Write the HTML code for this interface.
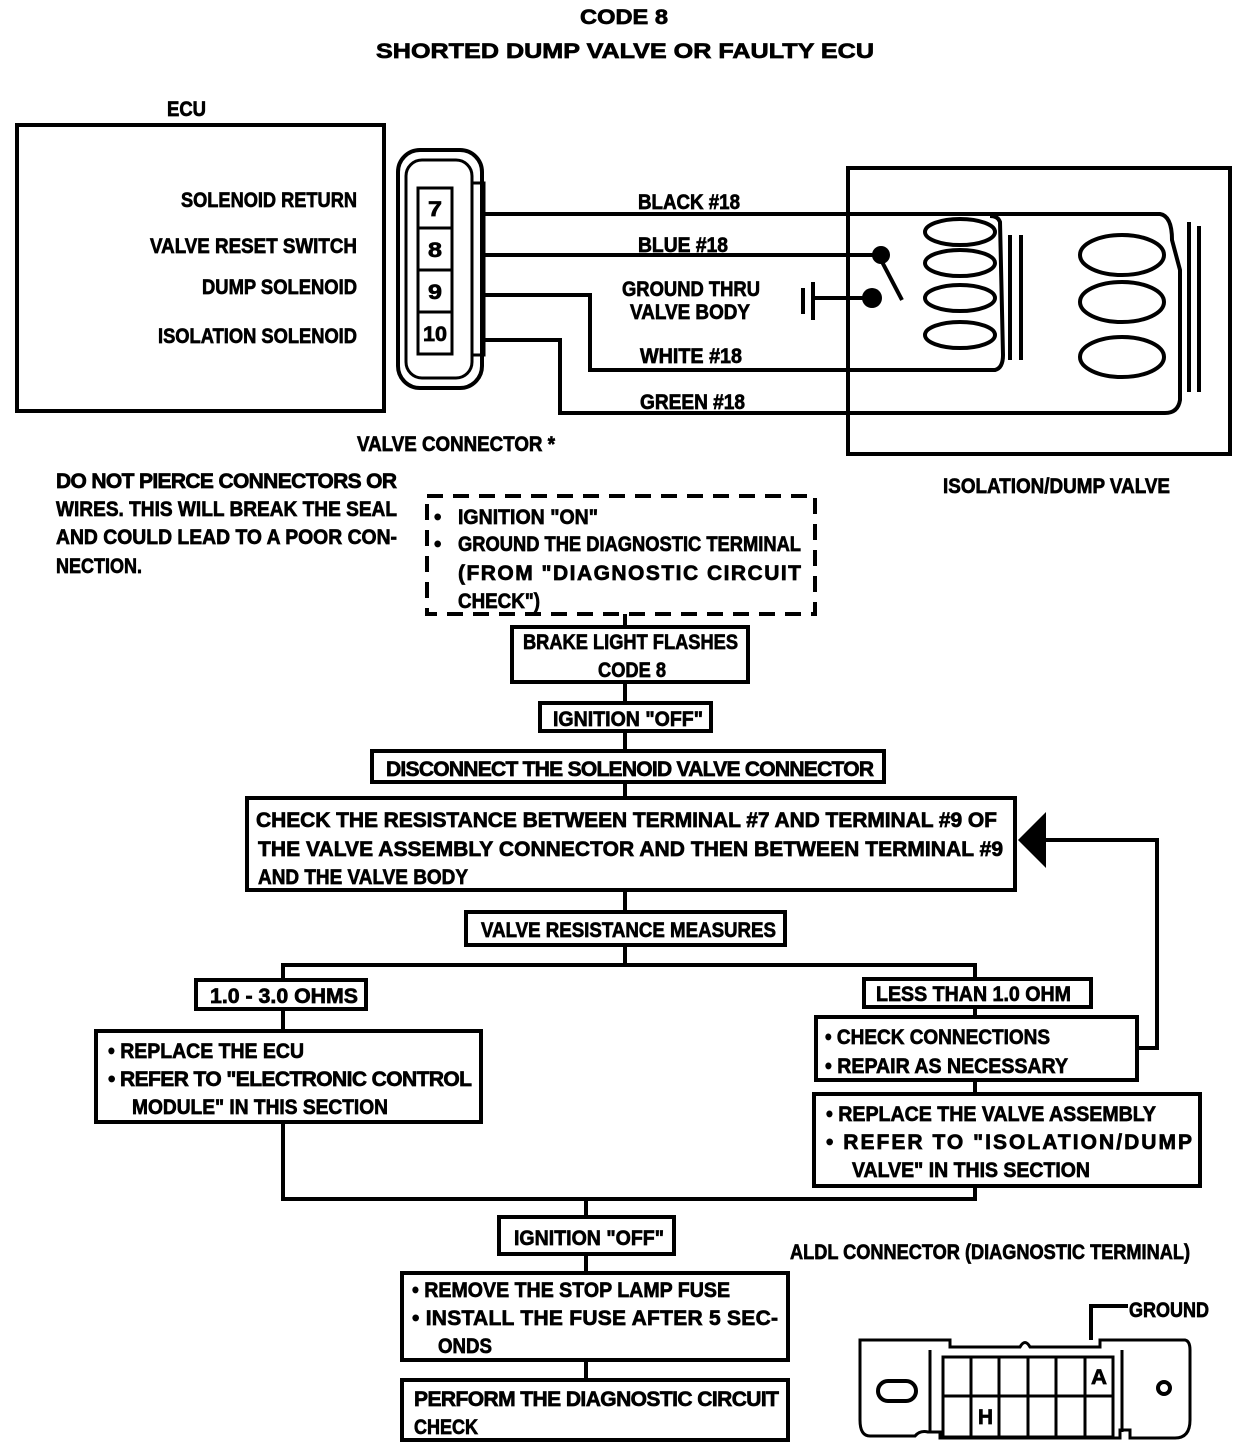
<!DOCTYPE html>
<html><head><meta charset="utf-8"><style>
html,body{margin:0;padding:0;background:#fff;}
svg{display:block}
text{font-family:"Liberation Sans",sans-serif;font-weight:bold;font-size:21px;fill:#000;stroke:#000;stroke-width:0.7;}
</style></head><body>
<svg width="1248" height="1452" viewBox="0 0 1248 1452" xmlns="http://www.w3.org/2000/svg">
<g fill="none" stroke="#000" stroke-width="4">
<!-- ECU box -->
<rect x="17" y="125" width="367" height="286"/>
<!-- connector -->
<rect x="398" y="150" width="84" height="238" rx="22"/>
<rect x="406" y="160" width="66" height="218" rx="16" stroke-width="3"/>
<rect x="472" y="183" width="12" height="172" stroke-width="3"/>
<rect x="418" y="188" width="34" height="166" stroke-width="3"/>
<line x1="418" y1="228" x2="452" y2="228" stroke-width="3"/>
<line x1="418" y1="270" x2="452" y2="270" stroke-width="3"/>
<line x1="418" y1="312" x2="452" y2="312" stroke-width="3"/>
<!-- valve box -->
<rect x="848" y="168" width="382" height="286"/>
<!-- wires -->
<path d="M484 214 H1160 Q1172 216 1172 240 L1180 270 L1180 400 Q1178 413 1165 413 H560 V340 H484"/>
<path d="M484 255 H880"/>
<path d="M484 295 H590 V370 H995 Q1003 368 1003 355 L1000 222 Q998 216 990 216"/>
<line x1="880" y1="258" x2="902" y2="300" stroke-width="4"/>
<line x1="812" y1="298" x2="870" y2="298"/>
<line x1="813" y1="282" x2="813" y2="320"/>
<line x1="803" y1="288" x2="803" y2="314"/>
<!-- coils -->
<ellipse cx="960" cy="232" rx="35" ry="13"/>
<ellipse cx="960" cy="263" rx="35" ry="13"/>
<ellipse cx="960" cy="298" rx="35" ry="13"/>
<ellipse cx="960" cy="335" rx="35" ry="13"/>
<line x1="1010" y1="235" x2="1010" y2="360"/>
<line x1="1021" y1="235" x2="1021" y2="360"/>
<ellipse cx="1122" cy="255" rx="42" ry="20"/>
<ellipse cx="1122" cy="302" rx="42" ry="20"/>
<ellipse cx="1122" cy="357" rx="42" ry="20"/>
<line x1="1189" y1="222" x2="1189" y2="392"/>
<line x1="1199" y1="226" x2="1199" y2="392"/>
<!-- dashed box -->
<rect x="427" y="496" width="388" height="118" stroke-dasharray="16,10"/>
<!-- flow lines -->
<line x1="625" y1="614" x2="625" y2="912"/>
<line x1="625" y1="945" x2="625" y2="965"/>
<path d="M283 980 V965 H975 V979"/>
<line x1="283" y1="1009" x2="283" y2="1031"/>
<line x1="975" y1="1007" x2="975" y2="1017"/>
<line x1="975" y1="1080" x2="975" y2="1094"/>
<path d="M283 1122 V1199 H975 V1186"/>
<line x1="586" y1="1199" x2="586" y2="1217"/>
<line x1="586" y1="1254" x2="586" y2="1273"/>
<line x1="586" y1="1360" x2="586" y2="1380"/>
<path d="M1137 1048 H1157 V840 H1040"/>
<!-- boxes -->
<rect x="512" y="627" width="236" height="55" fill="#fff"/>
<rect x="540" y="703" width="171" height="28" fill="#fff"/>
<rect x="372" y="751" width="512" height="31" fill="#fff"/>
<rect x="247" y="798" width="768" height="92" fill="#fff"/>
<rect x="466" y="912" width="319" height="33" fill="#fff"/>
<rect x="196" y="980" width="170" height="29" fill="#fff"/>
<rect x="864" y="979" width="227" height="28" fill="#fff"/>
<rect x="96" y="1031" width="385" height="91" fill="#fff"/>
<rect x="816" y="1017" width="321" height="63" fill="#fff"/>
<rect x="814" y="1094" width="386" height="92" fill="#fff"/>
<rect x="499" y="1217" width="175" height="37" fill="#fff"/>
<rect x="402" y="1273" width="386" height="87" fill="#fff"/>
<rect x="402" y="1380" width="386" height="60" fill="#fff"/>
<!-- ALDL -->
<path d="M860 1340 H950 V1347 H1020 Q1025 1338 1030 1347 H1100 V1340 H1185 Q1190 1341 1190 1350 V1420 Q1190 1438 1175 1438 H1130 V1430 H1120 V1438 H940 V1432 H928 Q920 1430 915 1436 H870 Q860 1436 860 1420 Z" stroke-width="3"/>
<rect x="943" y="1357" width="170" height="80" stroke-width="3"/>
<line x1="943" y1="1396" x2="1113" y2="1396" stroke-width="3"/>
<line x1="971" y1="1357" x2="971" y2="1437" stroke-width="3"/>
<line x1="999" y1="1357" x2="999" y2="1437" stroke-width="3"/>
<line x1="1028" y1="1357" x2="1028" y2="1437" stroke-width="3"/>
<line x1="1056" y1="1357" x2="1056" y2="1437" stroke-width="3"/>
<line x1="1085" y1="1357" x2="1085" y2="1437" stroke-width="3"/>
<line x1="930" y1="1350" x2="930" y2="1432" stroke-width="3"/>
<line x1="1122" y1="1350" x2="1122" y2="1432" stroke-width="3"/>
<rect x="878" y="1381" width="38" height="20" rx="10"/>
<circle cx="1164" cy="1388" r="6"/>
<path d="M1091 1340 V1306 H1128"/>
</g>
<circle cx="881" cy="255" r="9"/>
<circle cx="872" cy="298" r="10"/>
<polygon points="1018,840 1046,812 1046,868"/>
<!-- texts -->
<text x="580" y="24" textLength="88" lengthAdjust="spacingAndGlyphs" font-size="26" stroke-width="1.2">CODE 8</text>
<text x="376" y="58" textLength="498" lengthAdjust="spacingAndGlyphs" font-size="27" stroke-width="1.2">SHORTED DUMP VALVE OR FAULTY ECU</text>
<text x="167" y="116" textLength="39" lengthAdjust="spacingAndGlyphs">ECU</text>
<text x="181" y="207" textLength="176" lengthAdjust="spacingAndGlyphs">SOLENOID RETURN</text>
<text x="150" y="253" textLength="207" lengthAdjust="spacingAndGlyphs">VALVE RESET SWITCH</text>
<text x="202" y="294" textLength="155" lengthAdjust="spacingAndGlyphs">DUMP SOLENOID</text>
<text x="158" y="343" textLength="199" lengthAdjust="spacingAndGlyphs">ISOLATION SOLENOID</text>
<text x="428" y="216" textLength="14" lengthAdjust="spacingAndGlyphs">7</text>
<text x="428" y="257" textLength="14" lengthAdjust="spacingAndGlyphs">8</text>
<text x="428" y="299" textLength="14" lengthAdjust="spacingAndGlyphs">9</text>
<text x="423" y="341" textLength="24" lengthAdjust="spacingAndGlyphs">10</text>
<text x="638" y="209" textLength="102" lengthAdjust="spacingAndGlyphs">BLACK #18</text>
<text x="638" y="252" textLength="90" lengthAdjust="spacingAndGlyphs">BLUE #18</text>
<text x="622" y="296" textLength="138" lengthAdjust="spacingAndGlyphs">GROUND THRU</text>
<text x="630" y="319" textLength="120" lengthAdjust="spacingAndGlyphs">VALVE BODY</text>
<text x="640" y="363" textLength="102" lengthAdjust="spacingAndGlyphs">WHITE #18</text>
<text x="640" y="409" textLength="105" lengthAdjust="spacingAndGlyphs">GREEN #18</text>
<text x="357" y="451" textLength="198" lengthAdjust="spacingAndGlyphs">VALVE CONNECTOR *</text>
<text x="943" y="493" textLength="227" lengthAdjust="spacingAndGlyphs">ISOLATION/DUMP VALVE</text>
<text x="56" y="488" textLength="341" lengthAdjust="spacing">DO NOT PIERCE CONNECTORS OR</text>
<text x="56" y="516" textLength="341" lengthAdjust="spacingAndGlyphs">WIRES. THIS WILL BREAK THE SEAL</text>
<text x="56" y="544" textLength="341" lengthAdjust="spacingAndGlyphs">AND COULD LEAD TO A POOR CON-</text>
<text x="56" y="573" textLength="86" lengthAdjust="spacingAndGlyphs">NECTION.</text>
<text x="434" y="524">•</text>
<text x="458" y="524" textLength="140" lengthAdjust="spacingAndGlyphs">IGNITION "ON"</text>
<text x="434" y="551">•</text>
<text x="458" y="551" textLength="343" lengthAdjust="spacingAndGlyphs">GROUND THE DIAGNOSTIC TERMINAL</text>
<text x="458" y="580" textLength="343" lengthAdjust="spacing">(FROM "DIAGNOSTIC CIRCUIT</text>
<text x="458" y="608" textLength="82" lengthAdjust="spacingAndGlyphs">CHECK")</text>
<text x="523" y="649" textLength="215" lengthAdjust="spacingAndGlyphs">BRAKE LIGHT FLASHES</text>
<text x="598" y="677" textLength="68" lengthAdjust="spacingAndGlyphs">CODE 8</text>
<text x="553" y="726" textLength="150" lengthAdjust="spacingAndGlyphs">IGNITION "OFF"</text>
<text x="386" y="776" textLength="488" lengthAdjust="spacing">DISCONNECT THE SOLENOID VALVE CONNECTOR</text>
<text x="256" y="827" textLength="741" lengthAdjust="spacing">CHECK THE RESISTANCE BETWEEN TERMINAL #7 AND TERMINAL #9 OF</text>
<text x="258" y="856" textLength="745" lengthAdjust="spacing">THE VALVE ASSEMBLY CONNECTOR AND THEN BETWEEN TERMINAL #9</text>
<text x="258" y="884" textLength="210" lengthAdjust="spacingAndGlyphs">AND THE VALVE BODY</text>
<text x="481" y="937" textLength="295" lengthAdjust="spacingAndGlyphs">VALVE RESISTANCE MEASURES</text>
<text x="210" y="1003" textLength="148" lengthAdjust="spacingAndGlyphs">1.0 - 3.0 OHMS</text>
<text x="876" y="1001" textLength="195" lengthAdjust="spacingAndGlyphs">LESS THAN 1.0 OHM</text>
<text x="108" y="1058" textLength="196" lengthAdjust="spacingAndGlyphs">• REPLACE THE ECU</text>
<text x="108" y="1086" textLength="364" lengthAdjust="spacing">• REFER TO "ELECTRONIC CONTROL</text>
<text x="132" y="1114" textLength="256" lengthAdjust="spacingAndGlyphs">MODULE" IN THIS SECTION</text>
<text x="825" y="1044" textLength="225" lengthAdjust="spacingAndGlyphs">• CHECK CONNECTIONS</text>
<text x="825" y="1073" textLength="243" lengthAdjust="spacingAndGlyphs">• REPAIR AS NECESSARY</text>
<text x="826" y="1121" textLength="330" lengthAdjust="spacingAndGlyphs">• REPLACE THE VALVE ASSEMBLY</text>
<text x="826" y="1149" textLength="366" lengthAdjust="spacing">• REFER TO "ISOLATION/DUMP</text>
<text x="852" y="1177" textLength="238" lengthAdjust="spacingAndGlyphs">VALVE" IN THIS SECTION</text>
<text x="514" y="1245" textLength="150" lengthAdjust="spacingAndGlyphs">IGNITION "OFF"</text>
<text x="412" y="1297" textLength="318" lengthAdjust="spacingAndGlyphs">• REMOVE THE STOP LAMP FUSE</text>
<text x="412" y="1325" textLength="366" lengthAdjust="spacing">• INSTALL THE FUSE AFTER 5 SEC-</text>
<text x="438" y="1353" textLength="54" lengthAdjust="spacingAndGlyphs">ONDS</text>
<text x="414" y="1406" textLength="365" lengthAdjust="spacing">PERFORM THE DIAGNOSTIC CIRCUIT</text>
<text x="414" y="1434" textLength="64" lengthAdjust="spacingAndGlyphs">CHECK</text>
<text x="790" y="1259" textLength="400" lengthAdjust="spacingAndGlyphs">ALDL CONNECTOR (DIAGNOSTIC TERMINAL)</text>
<text x="1129" y="1317" textLength="80" lengthAdjust="spacingAndGlyphs">GROUND</text>
<text x="1091" y="1384" textLength="16" lengthAdjust="spacingAndGlyphs">A</text>
<text x="978" y="1424" textLength="15" lengthAdjust="spacingAndGlyphs">H</text>
</svg>
</body></html>
